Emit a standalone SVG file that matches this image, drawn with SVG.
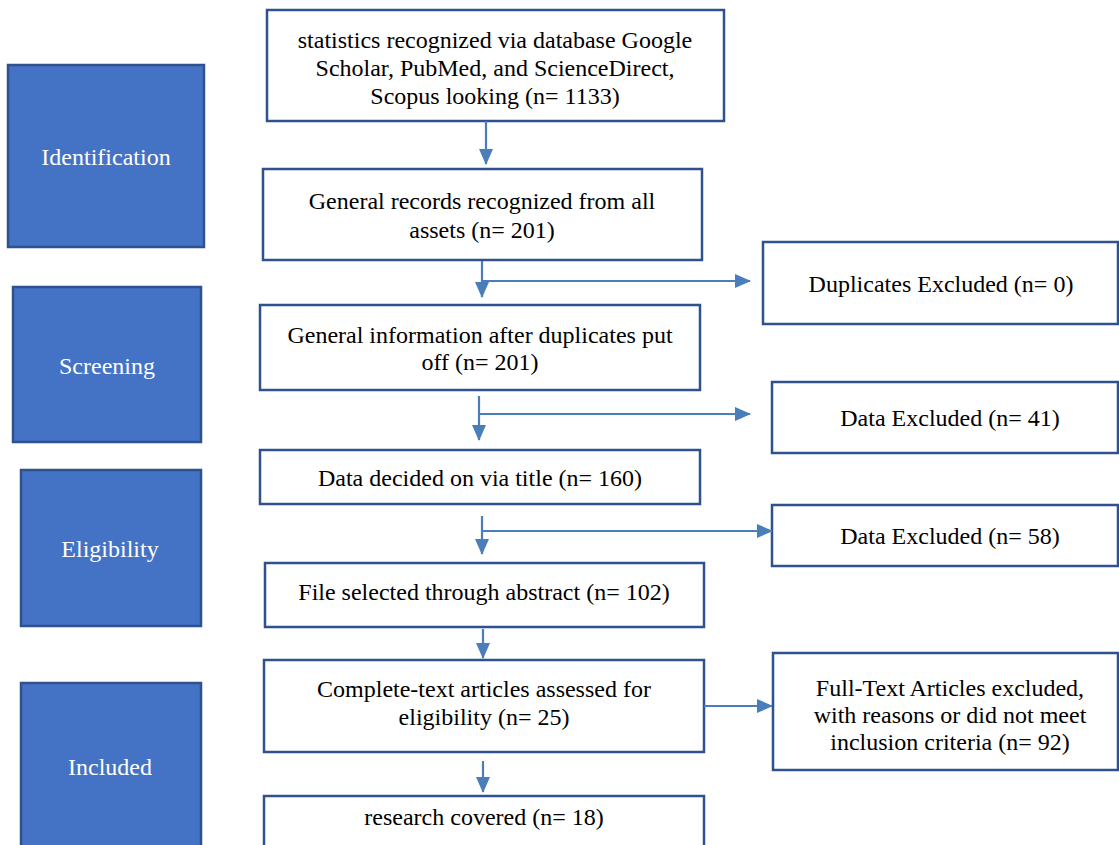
<svg xmlns="http://www.w3.org/2000/svg" width="1119" height="845" viewBox="0 0 1119 845">
  <defs>
    <marker id="arrow" markerUnits="userSpaceOnUse" markerWidth="16" markerHeight="16" viewBox="0 0 16 16" refX="15" refY="8" orient="auto">
      <path d="M0,1 L16,8 L0,15 Z" fill="#4A7EBB"/>
    </marker>
    <style>
      .stage { fill: #4472C4; stroke: #2F528F; stroke-width: 2.5; }
      .box { fill: #FFFFFF; stroke: #2F528F; stroke-width: 2.5; }
      .conn { fill: none; stroke: #4A7EBB; stroke-width: 2.2; }
      text { font-family: "Times New Roman", "Liberation Serif", Tinos, serif; font-size: 24px; text-anchor: middle; }
      .stage-text { fill: #FFFFFF; }
      .label { fill: #000000; }
    </style>
  </defs>

  <rect width="1119" height="845" fill="#FFFFFF"/>

  <!-- Stage labels -->
  <g id="stage-identification">
    <rect class="stage" x="8" y="65" width="196" height="182"/>
    <text class="stage-text" x="106" y="165">Identification</text>
  </g>
  <g id="stage-screening">
    <rect class="stage" x="13" y="287" width="188" height="155"/>
    <text class="stage-text" x="107" y="374">Screening</text>
  </g>
  <g id="stage-eligibility">
    <rect class="stage" x="21" y="470" width="180" height="156"/>
    <text class="stage-text" x="110" y="557">Eligibility</text>
  </g>
  <g id="stage-included">
    <rect class="stage" x="21" y="683" width="180" height="180"/>
    <text class="stage-text" x="110" y="775">Included</text>
  </g>

  <!-- Main flow -->
  <g id="records-identified">
    <rect class="box" x="267" y="10" width="457" height="111"/>
    <text class="label" x="495" y="48">statistics recognized via database Google</text>
    <text class="label" x="495" y="76">Scholar, PubMed, and ScienceDirect,</text>
    <text class="label" x="495" y="104">Scopus looking (n= 1133)</text>
  </g>
  <g id="records-all-sources">
    <rect class="box" x="263" y="169" width="439" height="91"/>
    <text class="label" x="482" y="209">General records recognized from all</text>
    <text class="label" x="482" y="238">assets (n= 201)</text>
  </g>
  <g id="after-duplicates">
    <rect class="box" x="260" y="305" width="440" height="85"/>
    <text class="label" x="480" y="343">General information after duplicates put</text>
    <text class="label" x="480" y="370">off (n= 201)</text>
  </g>
  <g id="title-screened">
    <rect class="box" x="260" y="450" width="440" height="54"/>
    <text class="label" x="480" y="486">Data decided on via title (n= 160)</text>
  </g>
  <g id="abstract-screened">
    <rect class="box" x="265" y="563" width="439" height="64"/>
    <text class="label" x="484" y="600">File selected through abstract (n= 102)</text>
  </g>
  <g id="full-text-assessed">
    <rect class="box" x="264" y="660" width="440" height="92"/>
    <text class="label" x="484" y="697">Complete-text articles assessed for</text>
    <text class="label" x="484" y="725">eligibility (n= 25)</text>
  </g>
  <g id="studies-included">
    <rect class="box" x="264" y="796" width="440" height="70"/>
    <text class="label" x="484" y="825">research covered (n= 18)</text>
  </g>

  <!-- Exclusions -->
  <g id="duplicates-excluded">
    <rect class="box" x="763" y="242" width="355" height="82"/>
    <text class="label" x="941" y="292">Duplicates Excluded (n= 0)</text>
  </g>
  <g id="title-excluded">
    <rect class="box" x="772" y="382" width="346" height="71"/>
    <text class="label" x="950" y="426">Data Excluded (n= 41)</text>
  </g>
  <g id="abstract-excluded">
    <rect class="box" x="772" y="505" width="346" height="61"/>
    <text class="label" x="950" y="544">Data Excluded (n= 58)</text>
  </g>
  <g id="full-text-excluded">
    <rect class="box" x="773" y="653" width="345" height="117"/>
    <text class="label" x="950" y="696">Full-Text Articles excluded,</text>
    <text class="label" x="950" y="723">with reasons or did not meet</text>
    <text class="label" x="950" y="750">inclusion criteria (n= 92)</text>
  </g>

  <!-- Connectors -->
  <g id="connectors">
    <line class="conn" x1="486" y1="121" x2="486" y2="164" marker-end="url(#arrow)"/>

    <line class="conn" x1="482" y1="261" x2="482" y2="297" marker-end="url(#arrow)"/>
    <line class="conn" x1="482" y1="281" x2="750" y2="281" marker-end="url(#arrow)"/>

    <line class="conn" x1="479" y1="396" x2="479" y2="440" marker-end="url(#arrow)"/>
    <line class="conn" x1="479" y1="414" x2="750" y2="414" marker-end="url(#arrow)"/>

    <line class="conn" x1="482" y1="516" x2="482" y2="554" marker-end="url(#arrow)"/>
    <line class="conn" x1="482" y1="531" x2="772" y2="531" marker-end="url(#arrow)"/>

    <line class="conn" x1="483" y1="629" x2="483" y2="658" marker-end="url(#arrow)"/>

    <line class="conn" x1="483" y1="761" x2="483" y2="792" marker-end="url(#arrow)"/>

    <line class="conn" x1="704" y1="706" x2="772" y2="706" marker-end="url(#arrow)"/>
  </g>
</svg>
